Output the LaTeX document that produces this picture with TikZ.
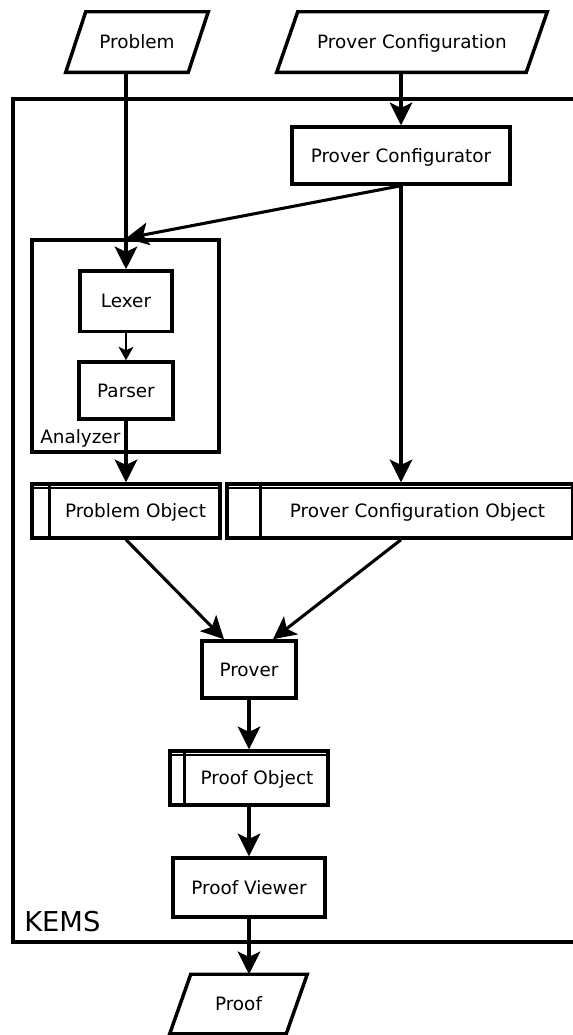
\documentclass[tikz,border=0pt]{standalone}
\usepackage{fontspec}
\setmainfont{DejaVu Sans}
\usetikzlibrary{arrows.meta,calc}
\begin{document}
\begin{tikzpicture}[x=0.75pt,y=-0.75pt,
  lbl/.style={font=\fontsize{13.8}{16}\selectfont, inner sep=0pt, text height=10pt, text depth=0pt},
  box/.style={lbl, draw, line width=2.6pt},
  io/.style={lbl},
  para/.style={line width=2.6pt, line join=miter},
  inner/.style={line width=1.6pt},
  conn/.style={line width=2.3pt, -{Stealth[length=17pt,width=17pt,inset=4pt]}},
  connsmall/.style={line width=1.8pt, -{Stealth[length=10pt,width=11pt,inset=2.5pt]}},
]
\path[use as bounding box] (0,0) rectangle (573,1035);
\clip (0,0) rectangle (573,1035);

% container
\draw[line width=3pt] (12.5,98.5) rectangle (620,941.5);
\node[inner sep=0pt, minimum width=440.6pt, minimum height=632.25pt, anchor=north west] (kems) at (12.5,98.5) {};
\node[font=\fontsize{20.5}{24}\selectfont, inner sep=0pt, anchor=base west] (kemslbl) at (24,931.5) {KEMS};

% inputs
\node[io, minimum width=106.5pt, minimum height=45pt] (prob) at (137,42) {Problem};
\draw[para] ($(prob.north west)+(20,0)$) -- (prob.north east) -- ($(prob.south east)+(-20,0)$) -- (prob.south west) -- cycle;
\node[io, minimum width=202.5pt, minimum height=45pt] (pconf) at (412,42) {Prover Configuration};
\draw[para] ($(pconf.north west)+(21,0)$) -- (pconf.north east) -- ($(pconf.south east)+(-21,0)$) -- (pconf.south west) -- cycle;

% configurator
\node[box, minimum width=163.5pt, minimum height=42.75pt] (pcfg) at (401,155.5) {Prover Configurator};

% analyzer
\node[draw, line width=2.6pt, minimum width=140.25pt, minimum height=159pt, inner sep=0pt] (ana) at (125.5,346) {};
\node[lbl, anchor=west] (analbl) at (40,436.7) {Analyzer};
\node[box, minimum width=69pt, minimum height=45.5pt] (lexer) at (126,301.3) {Lexer};
\node[box, minimum width=70.5pt, minimum height=42.75pt] (parser) at (126,390.5) {Parser};

% objects
\node[box, minimum width=141pt, minimum height=40.5pt] (po) at (126,511) {\hspace*{14.25pt}Problem Object};
\draw[inner] ($(po.north west)+(0,5.5)$) -- ($(po.north east)+(0,5.5)$);
\draw[line width=2.3pt] ($(po.north west)+(19,0)$) -- ($(po.south west)+(19,0)$);

\node[box, minimum width=259.5pt, minimum height=40.5pt] (pco) at (400,511) {\hspace*{26.25pt}Prover Configuration Object};
\draw[inner] ($(pco.north west)+(0,5.5)$) -- ($(pco.north east)+(0,5.5)$);
\draw[line width=2.3pt] ($(pco.north west)+(35,0)$) -- ($(pco.south west)+(35,0)$);

\node[box, minimum width=70.5pt, minimum height=42.75pt] (prover) at (249,669.5) {Prover};

\node[box, minimum width=118.5pt, minimum height=40.5pt] (pobj) at (249,778) {\hspace*{12pt}Proof Object};
\draw[inner] ($(pobj.north west)+(0,5.5)$) -- ($(pobj.north east)+(0,5.5)$);
\draw[line width=2.3pt] ($(pobj.north west)+(16,0)$) -- ($(pobj.south west)+(16,0)$);

\node[box, minimum width=114pt, minimum height=44.25pt] (viewer) at (249,887.5) {Proof Viewer};

\node[io, minimum width=102.75pt, minimum height=44.25pt] (proof) at (238.5,1004) {Proof};
\draw[para] ($(proof.north west)+(21,0)$) -- (proof.north east) -- ($(proof.south east)+(-21,0)$) -- (proof.south west) -- cycle;

% connectors
\draw[conn] (lexer.north |- prob.south) -- (lexer.north);
\draw[conn] (pcfg.north |- pconf.south) -- (pcfg.north);
\draw[conn] (pcfg.south) -- (lexer.north |- ana.north);
\draw[conn] (pcfg.south) -- (pcfg.south |- pco.north);
\draw[connsmall] (lexer.south) -- (parser.north);
\draw[conn] (parser.south) -- (parser.south |- po.north);
\draw[conn] (po.south) -- ($(prover.north)+(-25,0)$);
\draw[conn] (pcfg.south |- pco.south) -- ($(prover.north)+(24,0)$);
\draw[conn] (prover.south) -- (pobj.north);
\draw[conn] (pobj.south) -- (viewer.north);
\draw[conn] (viewer.south) -- (viewer.south |- proof.north);
\end{tikzpicture}
\end{document}
